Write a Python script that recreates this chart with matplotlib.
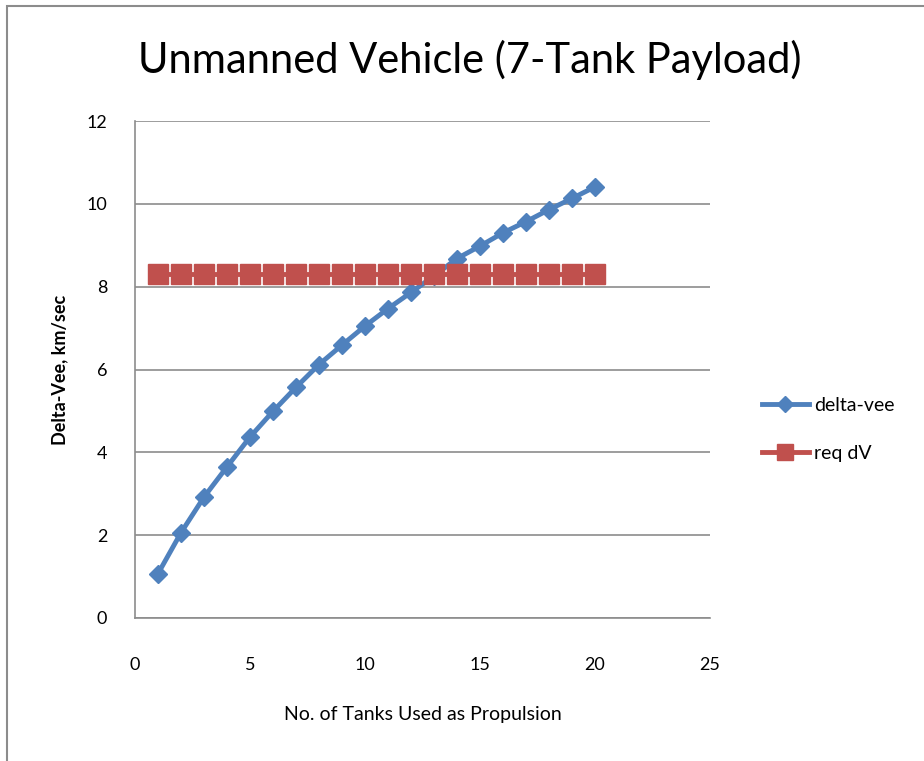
import matplotlib.pyplot as plt
from matplotlib.patches import Rectangle

# data
tanks = list(range(1, 21))
delta_vee = [1.07, 2.06, 2.92, 3.65, 4.37, 4.99, 5.57, 6.12, 6.59, 7.05,
             7.47, 7.86, 8.26, 8.68, 8.98, 9.30, 9.57, 9.86, 10.13, 10.41]
req_dv = [8.31] * 20

x_ticks = [0, 5, 10, 15, 20, 25]
y_ticks = [0, 2, 4, 6, 8, 10, 12]

plt.rcParams['font.family'] = ['Lato', 'DejaVu Sans']

fig = plt.figure(figsize=(9.24, 7.61), dpi=100)
ax = fig.add_axes([135/924, 1 - 618/761, (710-135)/924, (618-121)/761])

# outer chart border (as in the excel screenshot)
fig.patches.append(Rectangle((7/924, -0.05), 1.0, 1 - 6/761 + 0.05,
                             transform=fig.transFigure, fill=False,
                             edgecolor='#8c8c8c', lw=1.5))

ax.plot(tanks, delta_vee, color='#4F81BD', lw=3.5, marker='D', ms=9.5,
        label='delta-vee', zorder=3)
ax.plot(tanks, req_dv, color='#C0504D', lw=3.5, marker='s', ms=14,
        label='req dV', zorder=4)

ax.set_xlim(0, 25)
ax.set_ylim(0, 12)
ax.set_xticks(x_ticks)
ax.set_yticks(y_ticks)
ax.tick_params(length=0, labelsize=13)
ax.tick_params(axis='x', pad=28)
ax.tick_params(axis='y', pad=20)
ax.grid(axis='y', color='#8c8c8c', lw=1.2)
ax.set_axisbelow(True)
for side in ['top', 'right']:
    ax.spines[side].set_visible(False)
for side in ['left', 'bottom']:
    ax.spines[side].set_color('#8c8c8c')
    ax.spines[side].set_linewidth(1.2)

ax.set_xlabel('No. of Tanks Used as Propulsion', fontsize=14, labelpad=24)
ax.set_ylabel('Delta-Vee, km/sec', fontsize=13, fontweight='bold', labelpad=13)
fig.suptitle('Unmanned Vehicle (7-Tank Payload)', fontsize=30, y=1 - 60/761,
             va='center', x=470/924)

ax.legend(loc='center left', bbox_to_anchor=(1.06, 0.38), frameon=False,
          fontsize=14, handlelength=2.4, handletextpad=0.3, labelspacing=1.6,
          markerscale=0.85)

fig.savefig('out.png', dpi=100)
